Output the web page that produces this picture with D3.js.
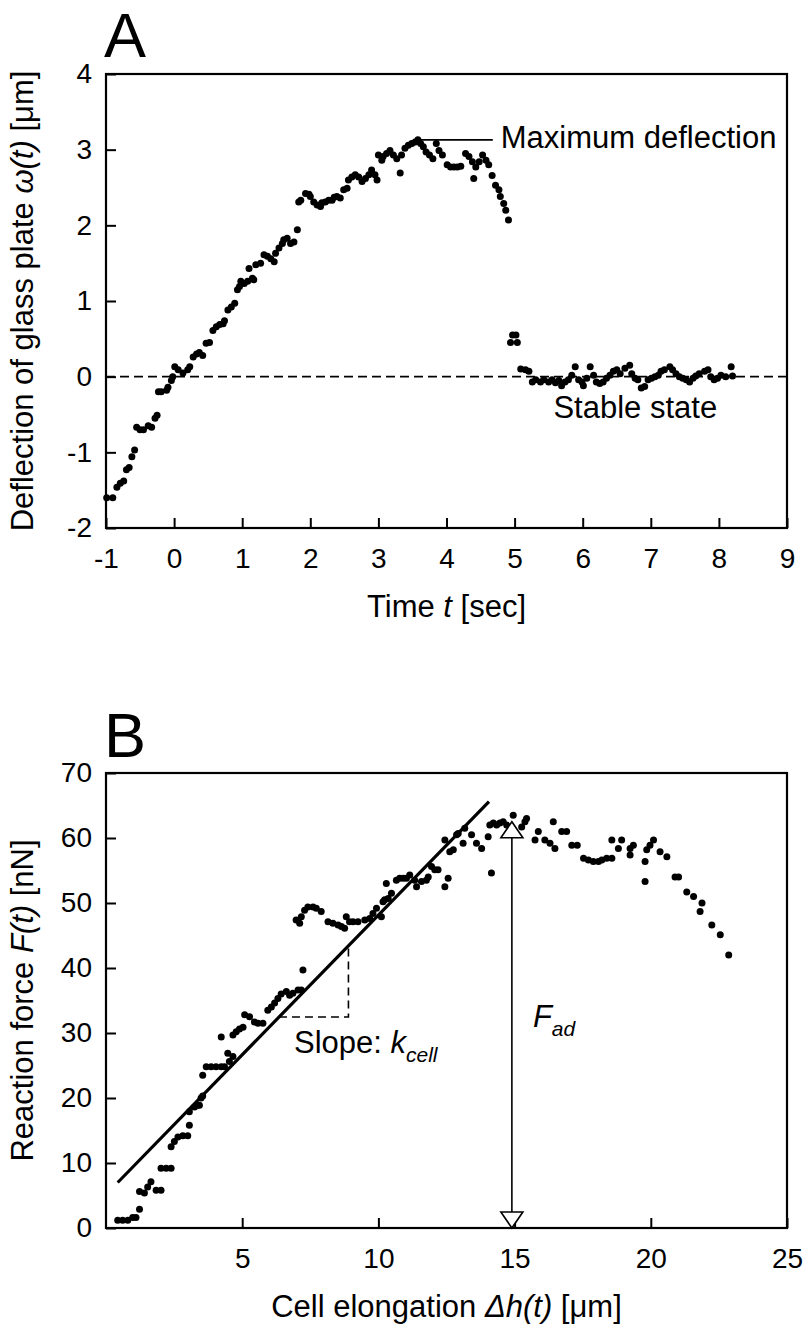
<!DOCTYPE html>
<html>
<head>
<meta charset="utf-8">
<script src="https://cdn.jsdelivr.net/npm/d3@7"></script>
<style>
  body { margin: 0; background: #fff; }
  svg text { font-family: "Liberation Sans", Arial, sans-serif; fill: #000; }
</style>
</head>
<body>
<svg id="chart" width="805" height="1325"></svg>
<script>
// ---- panel A: deflection of glass plate over time ----
const timeA = [
  -0.99, -0.90, -0.84, -0.79, -0.74, -0.70, -0.66, -0.62, -0.58, -0.55, -0.50, -0.45, -0.38, -0.33, -0.28, -0.25,
  -0.23, -0.19, -0.11, -0.09, -0.04, -0.02, 0.01, 0.06, 0.13, 0.20, 0.23, 0.28, 0.33, 0.37, 0.42, 0.47, 0.52,
  0.57, 0.62, 0.67, 0.72, 0.74, 0.79, 0.84, 0.89, 0.93, 0.96, 0.98, 1.03, 1.08, 1.10, 1.15, 1.17, 1.20, 1.27,
  1.32, 1.37, 1.42, 1.47, 1.49, 1.54, 1.59, 1.61, 1.66, 1.71, 1.76, 1.81, 1.83, 1.86, 1.93, 1.98, 2.00, 2.05,
  2.10, 2.15, 2.17, 2.22, 2.27, 2.32, 2.35, 2.39, 2.44, 2.49, 2.54, 2.56, 2.61, 2.66, 2.71, 2.76, 2.81, 2.86,
  2.90, 2.95, 2.98, 3.00, 3.05, 3.07, 3.12, 3.17, 3.22, 3.27, 3.32, 3.34, 3.39, 3.44, 3.49, 3.54, 3.58, 3.62,
  3.66, 3.70, 3.75, 3.80, 3.85, 3.89, 3.94, 4.01, 4.06, 4.11, 4.16, 4.21, 4.28, 4.33, 4.38, 4.40, 4.43, 4.48,
  4.53, 4.58, 4.62, 4.67, 4.72, 4.77, 4.79, 4.84, 4.87, 4.91, 4.94, 4.97, 5.02, 5.04, 5.09, 5.16, 5.21,
  5.26, 5.31, 5.38, 5.43, 5.50, 5.55, 5.60, 5.65, 5.69, 5.74, 5.79, 5.84, 5.89, 5.94, 5.99, 6.01, 6.06, 6.11,
  6.16, 6.20, 6.25, 6.30, 6.35, 6.40, 6.45, 6.50, 6.55, 6.62, 6.69, 6.72, 6.77, 6.81, 6.86, 6.91, 6.96, 7.01,
  7.06, 7.11, 7.15, 7.20, 7.28, 7.32, 7.37, 7.42, 7.47, 7.52, 7.57, 7.62, 7.66, 7.71, 7.79, 7.84, 7.88, 7.93,
  7.98, 8.03, 8.10, 8.18, 8.20
];
const deflectionA = [
  -1.60, -1.60, -1.46, -1.41, -1.38, -1.23, -1.20, -1.06, -0.97, -0.67, -0.70, -0.70, -0.65, -0.67, -0.55, -0.51,
  -0.20, -0.20, -0.18, -0.14, -0.05, 0.00, 0.13, 0.09, 0.05, 0.09, 0.13, 0.26, 0.30, 0.32, 0.28, 0.44, 0.45,
  0.61, 0.66, 0.69, 0.70, 0.74, 0.88, 0.92, 0.97, 1.15, 1.19, 1.26, 1.23, 1.26, 1.43, 1.30, 1.28, 1.48, 1.50,
  1.61, 1.59, 1.56, 1.52, 1.63, 1.70, 1.76, 1.81, 1.83, 1.76, 1.78, 1.94, 2.31, 2.33, 2.42, 2.41, 2.38, 2.31,
  2.27, 2.25, 2.30, 2.31, 2.33, 2.33, 2.37, 2.38, 2.36, 2.47, 2.49, 2.60, 2.64, 2.67, 2.64, 2.58, 2.62, 2.67,
  2.73, 2.67, 2.60, 2.93, 2.86, 2.91, 2.95, 2.99, 2.93, 2.88, 2.69, 2.93, 3.02, 3.06, 3.08, 3.10, 3.13, 3.08,
  3.04, 2.97, 2.93, 2.88, 3.08, 2.99, 2.93, 2.80, 2.77, 2.77, 2.77, 2.78, 2.95, 2.91, 2.84, 2.62, 2.77, 2.84,
  2.93, 2.86, 2.80, 2.66, 2.53, 2.47, 2.38, 2.29, 2.20, 2.07, 0.45, 0.55, 0.55, 0.45, 0.10, 0.09, 0.07,
  -0.07, -0.04, -0.07, -0.04, -0.07, -0.04, -0.08, -0.05, -0.12, -0.07, -0.04, 0.02, 0.13, -0.04, -0.07, -0.12, -0.02, 0.13,
  0.02, -0.07, -0.09, -0.07, -0.02, 0.02, 0.07, 0.09, 0.04, 0.11, 0.15, 0.04, -0.02, -0.04, -0.15, -0.13, -0.04, -0.02,
  0.00, 0.02, 0.07, 0.09, 0.13, 0.09, 0.04, 0.00, -0.02, -0.04, -0.07, -0.02, 0.01, 0.04, 0.07, 0.09, 0.00, -0.04,
  -0.02, 0.02, 0.00, 0.13, 0.01
];
const ticksAX = [-1, 0, 1, 2, 3, 4, 5, 6, 7, 8, 9];
const ticksAY = [-2, -1, 0, 1, 2, 3, 4];
const maxLeaderA = [3.55, 4.68]; // time range of the "Maximum deflection" leader line
const maxValueA = 3.13;

// ---- panel B: reaction force against cell elongation ----
const elongationB = [
  0.43, 0.61, 0.80, 0.98, 1.10, 1.23, 1.23, 1.41, 1.53, 1.65, 1.84, 2.02, 2.02, 2.21, 2.39, 2.39, 2.51, 2.64,
  2.82, 3.00, 3.06, 3.06, 3.25, 3.37, 3.43, 3.49, 3.55, 3.55, 3.68, 3.86, 4.04, 4.23, 4.35, 4.23, 4.47, 4.53,
  4.66, 4.66, 4.78, 4.90, 5.03, 5.09, 5.27, 5.45, 5.58, 5.76, 5.94, 6.07, 6.19, 6.31, 6.43, 6.62, 6.74, 6.86,
  7.05, 7.17, 7.23, 6.98, 7.11, 7.17, 7.29, 7.41, 7.60, 7.72, 7.90, 8.15, 8.33, 8.52, 8.64, 8.76, 8.82, 8.94,
  9.07, 9.25, 9.50, 9.68, 9.80, 9.93, 10.11, 10.17, 10.23, 10.29, 10.36, 10.48, 10.66, 10.78, 10.91, 11.03,
  11.15, 11.33, 11.40, 11.58, 11.76, 11.83, 11.95, 12.07, 12.19, 12.44, 12.44, 12.56, 12.62, 12.75, 12.87,
  12.93, 13.11, 13.17, 13.42, 13.60, 13.79, 14.03, 14.09, 14.15, 14.22, 14.34, 14.46, 14.58, 14.71, 14.95,
  15.26, 15.38, 15.44, 15.75, 15.87, 16.11, 16.30, 16.42, 16.48, 16.73, 16.91, 17.10, 17.30, 17.53, 17.71,
  17.89, 18.08, 18.20, 18.38, 18.57, 18.57, 18.81, 18.93, 19.24, 19.24, 19.36, 19.79, 19.79, 19.85, 19.97,
  20.10, 20.34, 20.59, 20.89, 21.02, 21.32, 21.57, 21.81, 21.88, 22.24, 22.55, 22.86
];
const forceB = [
  1.2, 1.2, 1.2, 1.6, 1.6, 2.9, 5.6, 5.4, 6.3, 7.1, 5.8, 5.8, 9.2, 9.2, 9.2, 12.5, 13.3, 14.0,
  14.2, 14.2, 15.8, 17.9, 18.6, 18.9, 18.9, 20.0, 20.3, 23.5, 24.8, 24.8, 24.8, 24.8, 24.8, 29.4, 26.9, 25.6,
  26.4, 29.7, 30.2, 30.6, 30.9, 32.8, 32.5, 31.7, 31.5, 31.5, 33.5, 34.0, 34.6, 35.3, 36.0, 36.4, 35.8, 36.1,
  36.6, 36.6, 39.7, 47.4, 46.9, 47.9, 48.9, 49.4, 49.4, 49.2, 48.7, 47.1, 46.9, 46.6, 46.4, 46.1, 47.9, 47.1,
  47.1, 47.1, 47.4, 47.6, 48.4, 49.2, 47.9, 50.2, 50.5, 53.0, 50.7, 51.5, 53.5, 53.8, 53.8, 53.8,
  54.3, 53.5, 52.5, 53.3, 53.5, 54.0, 55.6, 55.1, 55.1, 59.7, 52.5, 53.8, 57.9, 58.2, 60.5,
  60.7, 59.2, 61.5, 60.5, 59.2, 58.4, 60.2, 62.0, 54.6, 62.3, 62.0, 62.3, 62.5, 62.0, 63.5,
  61.7, 62.5, 63.0, 59.7, 61.0, 59.7, 59.2, 62.5, 58.4, 61.0, 61.0, 58.9, 58.9, 56.9, 56.6,
  56.4, 56.4, 56.6, 56.9, 56.9, 59.7, 58.4, 59.7, 58.4, 57.4, 58.9, 56.4, 53.3, 58.2, 58.9,
  59.7, 57.9, 57.1, 54.0, 54.0, 51.7, 51.0, 48.7, 50.0, 46.6, 45.1, 42.0
];
const ticksBX = [5, 10, 15, 20, 25];
const ticksBY = [0, 10, 20, 30, 40, 50, 60, 70];
const fitElongationB = [0.43, 14.06];
const fitForceB = [7.0, 65.6];
const slopeTriangleB = [6.35, 8.9]; // elongation at the two corners of the dashed triangle
const adhesionB = { elongation: 14.9, force: 62.5 };

const svg = d3.select("#chart");
const FONT = 31;

const xA = d3.scaleLinear().domain([-1, 9]).range([106, 787]);
const yA = d3.scaleLinear().domain([-2, 4]).range([528, 74]);
const xB = d3.scaleLinear().domain([0, 25]).range([106, 787]);
const yB = d3.scaleLinear().domain([0, 70]).range([1228, 773]);

function drawAxes(x, y, xTicks, yTicks) {
  let [left, right] = x.range(),
    [bottom, top] = y.range(),
    fmt = (d) => String(d);

  let gx = svg.append("g")
    .attr("transform", "translate(0," + bottom + ")")
    .call(d3.axisBottom(x).tickValues(xTicks).tickSizeInner(-10).tickSizeOuter(0).tickPadding(20).tickFormat(fmt));
  let gy = svg.append("g")
    .attr("transform", "translate(" + left + ",0)")
    .call(d3.axisLeft(y).tickValues(yTicks).tickSizeInner(-10).tickSizeOuter(0).tickPadding(14).tickFormat(fmt));

  [gx, gy].forEach((g) => {
    g.select(".domain").remove();
    g.selectAll(".tick line").attr("stroke", "#000").attr("stroke-width", 2);
    g.selectAll(".tick text").attr("font-size", 28).attr("font-family", null).attr("fill", "#000");
  });

  // box round the plot
  svg.append("rect")
    .attr("x", left).attr("y", top)
    .attr("width", right - left).attr("height", bottom - top)
    .attr("fill", "none").attr("stroke", "#000").attr("stroke-width", 2.2);
}

function dots(xs, ys, x, y) {
  svg.append("g")
    .selectAll("circle")
    .data(xs.map((d, i) => [d, ys[i]]))
    .enter()
    .append("circle")
    .attr("cx", (d) => x(d[0]))
    .attr("cy", (d) => y(d[1]))
    .attr("r", 3.5)
    .attr("fill", "#000");
}

// text made of pieces: [string, italic, subscript]
function label(px, py, parts, opts = {}) {
  let t = svg.append("text")
    .attr("x", px).attr("y", py)
    .attr("font-size", FONT)
    .attr("text-anchor", opts.anchor || "start");
  if (opts.rotate) t.attr("transform", "rotate(-90," + px + "," + py + ")");
  parts.forEach((p) => {
    let s = t.append("tspan").text(p[0]);
    if (p[1]) s.attr("font-style", "italic");
    if (p[2]) s.attr("font-size", 21).attr("dy", 9);
  });
  return t;
}

// ---------- panel A ----------
svg.append("text").attr("x", 104).attr("y", 57).attr("font-size", 63).text("A");
drawAxes(xA, yA, ticksAX, ticksAY);

svg.append("line")
  .attr("x1", xA(-1)).attr("x2", xA(9))
  .attr("y1", yA(0)).attr("y2", yA(0))
  .attr("stroke", "#000").attr("stroke-width", 1.6).attr("stroke-dasharray", "9,5");

dots(timeA, deflectionA, xA, yA);

svg.append("line")
  .attr("x1", xA(maxLeaderA[0])).attr("x2", xA(maxLeaderA[1]))
  .attr("y1", yA(maxValueA)).attr("y2", yA(maxValueA))
  .attr("stroke", "#000").attr("stroke-width", 1.6);
label(xA(maxLeaderA[1]) + 8, yA(maxValueA) + 8, [["Maximum deflection"]]);
label(xA(5.57), yA(-0.55), [["Stable state"]]);

label(xA(4), 617, [["Time "], ["t", true], [" [sec]"]], { anchor: "middle" });
label(33, yA(1), [["Deflection of glass plate "], ["\u03C9(t)", true], [" [\u03BCm]"]], { anchor: "middle", rotate: true });

// ---------- panel B ----------
svg.append("text").attr("x", 104).attr("y", 757).attr("font-size", 63).text("B");
drawAxes(xB, yB, ticksBX, ticksBY);

dots(elongationB, forceB, xB, yB);

// fitted line
svg.append("line")
  .attr("x1", xB(fitElongationB[0])).attr("y1", yB(fitForceB[0]))
  .attr("x2", xB(fitElongationB[1])).attr("y2", yB(fitForceB[1]))
  .attr("stroke", "#000").attr("stroke-width", 3.2);

// dashed slope triangle under the fitted line
let fit = d3.scaleLinear().domain(fitElongationB).range(fitForceB);
let f0 = fit(slopeTriangleB[0]), f1 = fit(slopeTriangleB[1]);
svg.append("path")
  .attr("d", d3.line()([
    [xB(slopeTriangleB[0]), yB(f0)],
    [xB(slopeTriangleB[1]), yB(f0)],
    [xB(slopeTriangleB[1]), yB(f1)]
  ]))
  .attr("fill", "none").attr("stroke", "#000").attr("stroke-width", 1.6).attr("stroke-dasharray", "8,5");
label(xB(6.9), yB(f0) + 36, [["Slope: "], ["k", true], ["cell", true, true]]);

// adhesion force arrow
let ax = xB(adhesionB.elongation), aTop = yB(adhesionB.force), aBot = yB(0), tw = 11, th = 16;
svg.append("line")
  .attr("x1", ax).attr("x2", ax)
  .attr("y1", aTop + th).attr("y2", aBot - th)
  .attr("stroke", "#000").attr("stroke-width", 1.6);
svg.append("path")
  .attr("d", d3.line()([[ax, aTop], [ax - tw, aTop + th], [ax + tw, aTop + th]]) + "Z")
  .attr("fill", "#fff").attr("stroke", "#000").attr("stroke-width", 1.6);
svg.append("path")
  .attr("d", d3.line()([[ax, aBot], [ax - tw, aBot - th], [ax + tw, aBot - th]]) + "Z")
  .attr("fill", "#fff").attr("stroke", "#000").attr("stroke-width", 1.6);
label(ax + 21, yB(31.0), [["F", true], ["ad", true, true]]);

label(xB(12.5), 1317, [["Cell elongation "], ["\u0394h(t)", true], [" [\u03BCm]"]], { anchor: "middle" });
label(33, yB(35), [["Reaction force "], ["F(t)", true], [" [nN]"]], { anchor: "middle", rotate: true });
</script>
</body>
</html>
